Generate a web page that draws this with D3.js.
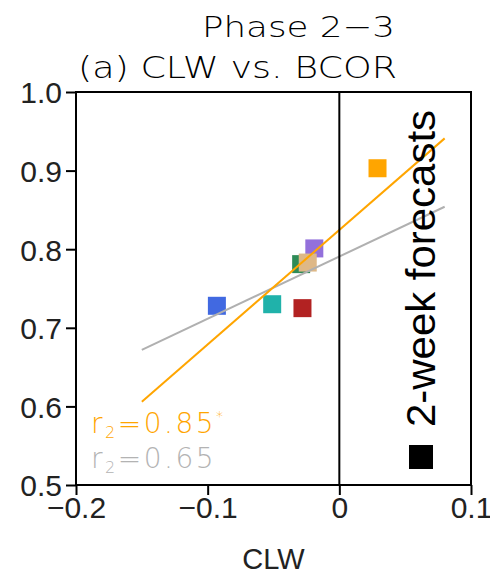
<!DOCTYPE html>
<html>
<head>
<meta charset="utf-8">
<script src="https://cdn.jsdelivr.net/npm/d3@7"></script>
<style>
  html, body { margin: 0; padding: 0; background: #fff; }
  svg { display: block; }
</style>
</head>
<body>
<svg id="chart" width="490" height="574"></svg>
<script>
// ---- data ----
const models = ["blue", "teal", "red", "green", "purple", "tan", "orange"];
const clw    = [-0.093, -0.051, -0.028, -0.029, -0.019, -0.024, 0.029];
const bcor   = [0.728, 0.730, 0.725, 0.781, 0.801, 0.783, 0.903];
const colors = ["#4169E1", "#20B2AA", "#B22222", "#2E8B57", "#9370DB", "#DEB887", "#FFA500"];
const fitX      = [-0.15, 0.08];
const fitOrange = [0.606, 0.941];
const fitGray   = [0.672, 0.854];
const xTicks = [-0.2, -0.1, 0, 0.1];
const xTickLabels = ["\u22120.2", "\u22120.1", "0", "0.1"];
const yTicks = [0.5, 0.6, 0.7, 0.8, 0.9, 1.0];
const yTickLabels = ["0.5", "0.6", "0.7", "0.8", "0.9", "1.0"];

const svg = d3.select("#chart");
const L = 76, R = 471, T = 92, B = 485;
const x = d3.scaleLinear().domain([-0.2, 0.1]).range([L, R]);
const y = d3.scaleLinear().domain([0.5, 1.0]).range([B, T]);

const thin = "'DejaVu Sans', sans-serif";
const sans = "'Liberation Sans', Arial, sans-serif";

// titles
svg.append("text").attr("x", 202).attr("y", 37)
  .attr("font-family", thin).attr("font-weight", 200).attr("font-size", 29)
  .attr("textLength", 193).attr("lengthAdjust", "spacingAndGlyphs")
  .text("Phase 2\u22123");
svg.append("text").attr("x", 78).attr("y", 78)
  .attr("font-family", thin).attr("font-weight", 200).attr("font-size", 31)
  .attr("textLength", 319).attr("lengthAdjust", "spacingAndGlyphs")
  .text("(a) CLW vs. BCOR");

// points
svg.append("g").selectAll("rect").data(models).join("rect")
  .attr("x", (d, i) => x(clw[i]) - 9)
  .attr("y", (d, i) => y(bcor[i]) - 9)
  .attr("width", 18).attr("height", 18)
  .attr("fill", (d, i) => colors[i]);

// regression lines
const line = d3.line().x(d => x(d[0])).y(d => y(d[1]));
svg.append("path").attr("d", line(fitX.map((v, i) => [v, fitGray[i]])))
  .attr("stroke", "#b0b0b0").attr("stroke-width", 2).attr("fill", "none");
svg.append("path").attr("d", line(fitX.map((v, i) => [v, fitOrange[i]])))
  .attr("stroke", "#FFA500").attr("stroke-width", 2).attr("fill", "none");

// zero line
svg.append("line").attr("x1", x(0)).attr("x2", x(0)).attr("y1", T).attr("y2", B)
  .attr("stroke", "#000").attr("stroke-width", 2);

// frame
svg.append("rect").attr("x", L).attr("y", T).attr("width", R - L).attr("height", B - T)
  .attr("fill", "none").attr("stroke", "#000").attr("stroke-width", 2);

// axes
const yAxis = d3.axisLeft(y).tickValues(yTicks).tickFormat((d, i) => yTickLabels[i])
  .tickSizeInner(10).tickSizeOuter(0).tickPadding(4);
const gy = svg.append("g").attr("transform", `translate(${L},0)`).call(yAxis);
gy.select(".domain").remove();
gy.selectAll("line").attr("stroke-width", 2);
gy.selectAll("text").attr("font-family", sans).attr("font-size", 30).attr("fill", "#222")
  .attr("dy", "0.36em");

const xAxis = d3.axisBottom(x).tickValues(xTicks).tickFormat((d, i) => xTickLabels[i])
  .tickSizeInner(10).tickSizeOuter(0).tickPadding(6);
const gx = svg.append("g").attr("transform", `translate(0,${B})`).call(xAxis);
gx.select(".domain").remove();
gx.selectAll("line").attr("stroke-width", 2);
gx.selectAll("text").attr("font-family", sans).attr("font-size", 30).attr("fill", "#222")
  .attr("dy", "0.55em");

svg.append("text").attr("x", (L + R) / 2).attr("y", 569).attr("text-anchor", "middle")
  .attr("font-family", sans).attr("font-size", 29).attr("fill", "#222").text("CLW");

// r2 labels
const r1 = svg.append("text").attr("x", 91).attr("y", 433)
  .attr("font-family", thin).attr("font-weight", 200).attr("font-size", 28)
  .attr("letter-spacing", 2.5).attr("fill", "#FFA500");
r1.append("tspan").text("r");
r1.append("tspan").attr("font-size", 16).attr("dy", 5).text("2");
r1.append("tspan").attr("dy", -5).text("=0.85");
r1.append("tspan").attr("font-size", 14).attr("dy", -12).text("*");
const r2 = svg.append("text").attr("x", 91).attr("y", 468)
  .attr("font-family", thin).attr("font-weight", 200).attr("font-size", 28)
  .attr("letter-spacing", 2.5).attr("fill", "#b3b3b3");
r2.append("tspan").text("r");
r2.append("tspan").attr("font-size", 16).attr("dy", 5).text("2");
r2.append("tspan").attr("dy", -5).text("=0.65");

// legend
svg.append("rect").attr("x", 409).attr("y", 445).attr("width", 24).attr("height", 24).attr("fill", "#000");
svg.append("text").attr("transform", "translate(435,427) rotate(-90)")
  .attr("font-family", sans).attr("font-size", 40).attr("fill", "#000")
  .attr("textLength", 317).attr("lengthAdjust", "spacingAndGlyphs")
  .text("2-week forecasts");
</script>
</body>
</html>
